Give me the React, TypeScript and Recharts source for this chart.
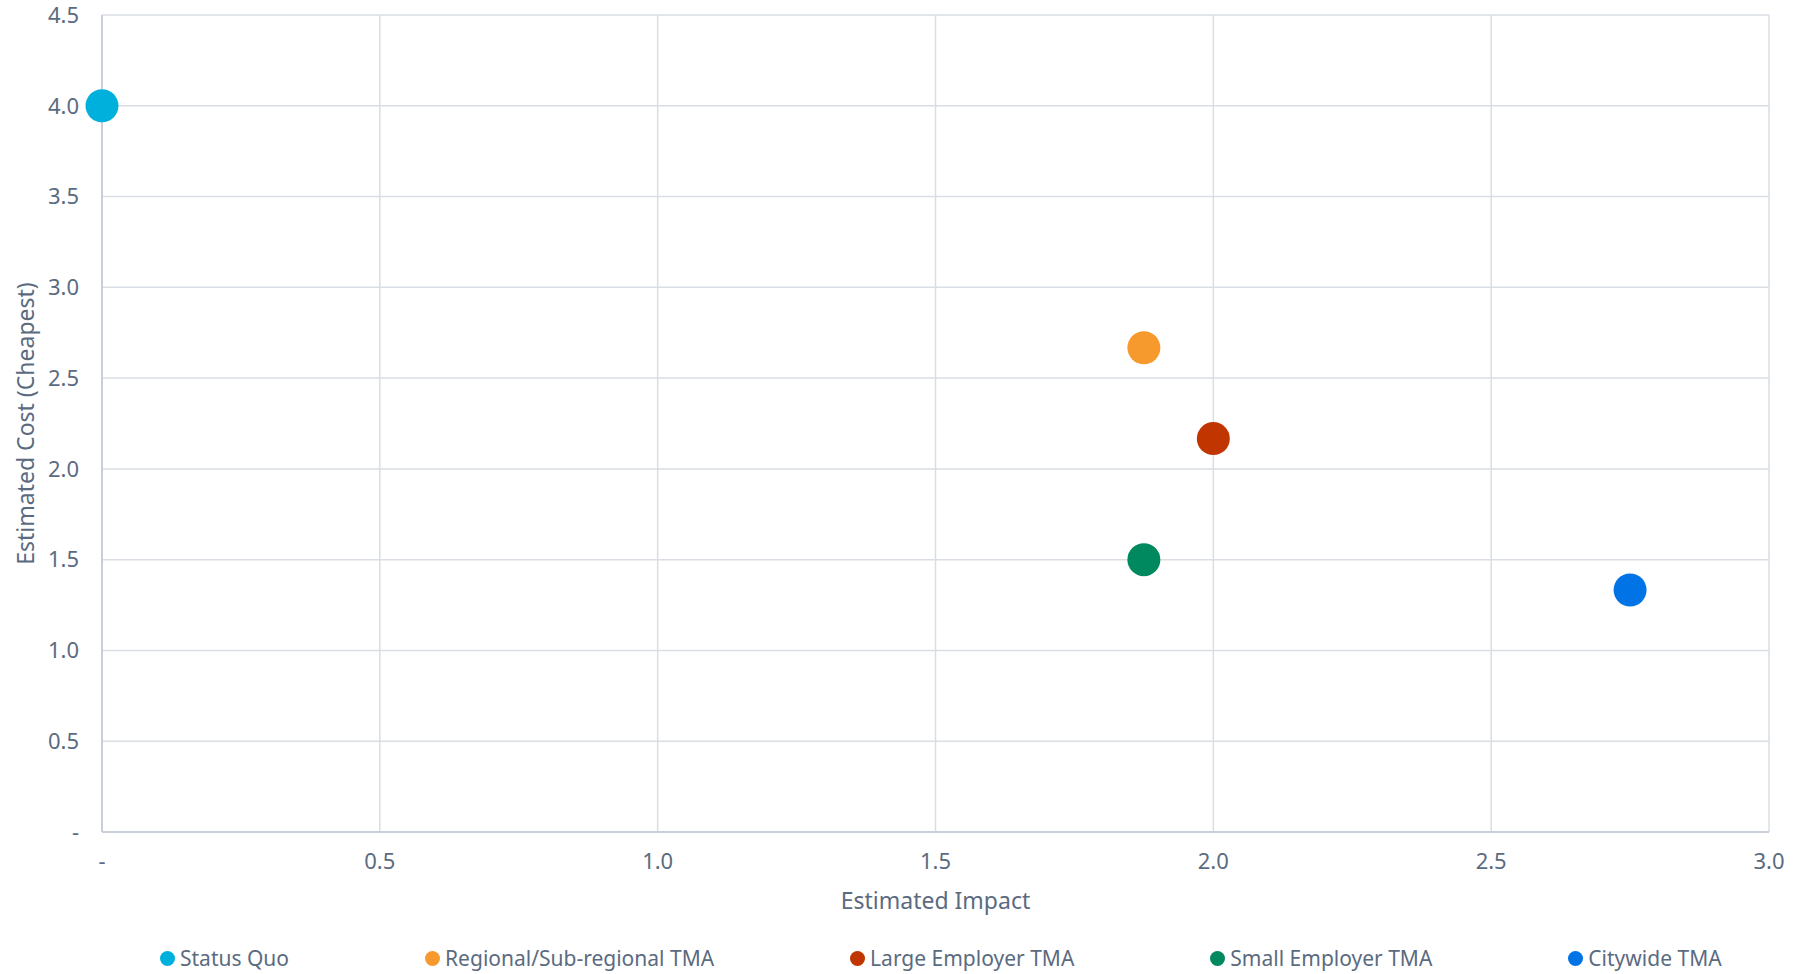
import { ScatterChart, Scatter, XAxis, YAxis, CartesianGrid } from 'recharts';

const seriesNames = ['Status Quo', 'Regional/Sub-regional TMA', 'Large Employer TMA', 'Small Employer TMA', 'Citywide TMA'];
const impactValues = [0, 1.875, 2.0, 1.875, 2.75];
const costValues = [4.0, 2.667, 2.167, 1.5, 1.333];
const seriesColors = ['#00B0DC', '#F79A2E', '#C03500', '#00895E', '#0073E6'];

const xTicks = [0, 0.5, 1.0, 1.5, 2.0, 2.5, 3.0];
const yTicks = [0, 0.5, 1.0, 1.5, 2.0, 2.5, 3.0, 3.5, 4.0, 4.5];

const FONT = '"Noto Sans", "Open Sans", sans-serif';
const TEXT = '#5B6B7F';
const GRID = '#D9DEE4';

const fmt = (v: number) => (v === 0 ? '-' : v.toFixed(1));

export default function App() {
  return (
    <div style={{ position: 'absolute', left: 0, top: 0, width: 1804, height: 974, background: '#fff', fontFamily: FONT }}>
      <ScatterChart width={1804} height={974} margin={{ top: 15, right: 35, bottom: 112, left: 0 }}>
        <CartesianGrid stroke={GRID} strokeWidth={1.5} />
        <XAxis
          type="number"
          dataKey="x"
          domain={[0, 3]}
          ticks={xTicks}
          tickFormatter={fmt}
          height={30}
          stroke="#C8CFD8"
          strokeWidth={2}
          tickLine={false}
          tick={{ fill: TEXT, fontSize: 22, fontFamily: FONT }}
          tickMargin={15}
          label={{ value: 'Estimated Impact', position: 'bottom', offset: 31, fill: TEXT, fontSize: 23, fontFamily: FONT }}
        />
        <YAxis
          type="number"
          dataKey="y"
          domain={[0, 4.5]}
          ticks={yTicks}
          tickFormatter={fmt}
          width={102}
          stroke="#C8CFD8"
          strokeWidth={2}
          tickLine={false}
          tick={{ fill: TEXT, fontSize: 22, fontFamily: FONT }}
          tickMargin={17}
          label={{
            content: (props: any) => {
              const vb = props.viewBox;
              const cx = vb.x + 25;
              const cy = vb.y + vb.height / 2;
              return (
                <text x={cx} y={cy} transform={`rotate(-90, ${cx}, ${cy})`} textAnchor="middle" dominantBaseline="central" fill={TEXT} fontSize={23} fontFamily={FONT}>
                  Estimated Cost (Cheapest)
                </text>
              );
            },
          }}
        />
        {seriesNames.map((name, i) => (
          <Scatter
            key={name}
            name={name}
            data={[{ x: impactValues[i], y: costValues[i] }]}
            fill={seriesColors[i]}
            isAnimationActive={false}
            shape={(p: any) => <circle cx={p.cx} cy={p.cy} r={16.5} fill={seriesColors[i]} />}
          />
        ))}
      </ScatterChart>
      <div style={{ position: 'absolute', left: 160, top: 944, display: 'flex', gap: 136, alignItems: 'center', color: TEXT, fontSize: 21, fontFamily: FONT, whiteSpace: 'nowrap' }}>
        {seriesNames.map((name, i) => (
          <div key={name} style={{ display: 'flex', alignItems: 'center', gap: 5 }}>
            <span style={{ display: 'inline-block', width: 15, height: 15, borderRadius: '50%', background: seriesColors[i] }} />
            <span>{name}</span>
          </div>
        ))}
      </div>
    </div>
  );
}
